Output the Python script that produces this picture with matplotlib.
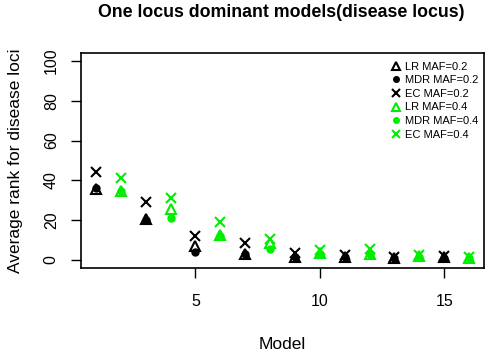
import matplotlib
matplotlib.use("Agg")
import matplotlib.pyplot as plt

plt.rcParams['font.family'] = ['Liberation Sans', 'DejaVu Sans']

models_02 = [1, 3, 5, 7, 9, 11, 13, 15]
models_04 = [2, 4, 6, 8, 10, 12, 14, 16]

lr_02 = [35.5, 20.5, 7.0, 3.0, 1.5, 1.5, 1.0, 1.5]
mdr_02 = [36.0, 20.3, 4.2, 3.2, 1.5, 1.5, 0.8, 1.0]
ec_02 = [44.4, 29.3, 12.3, 8.7, 3.5, 2.5, 1.5, 2.0]

lr_04 = [34.7, 25.5, 12.6, 8.5, 3.5, 3.0, 2.0, 1.0]
mdr_04 = [34.5, 21.0, 12.3, 5.4, 3.0, 3.0, 1.5, 0.8]
ec_04 = [41.4, 31.0, 19.3, 10.5, 5.0, 5.5, 2.5, 1.5]

labels = ["LR MAF=0.2", "MDR MAF=0.2", "EC MAF=0.2",
          "LR MAF=0.4", "MDR MAF=0.4", "EC MAF=0.4"]
xticks = [5, 10, 15]
yticks = [0, 20, 40, 60, 80, 100]

green = '#00ee00'

fig = plt.figure(figsize=(4.9, 3.55), dpi=100)
ax = fig.add_axes([0.1653, 0.2451, 0.8225, 0.6056])

ms_tri = 6.5
ms_dot = 5
ms_x = 6.5
h = []
h.append(ax.plot(models_02, mdr_02, 'o', color='black', ms=ms_dot, ls='none')[0])
h.append(ax.plot(models_02, lr_02, '^', mfc='none', mec='black', mew=1.5, ms=ms_tri, ls='none')[0])
h.append(ax.plot(models_02, ec_02, 'x', color='black', mew=1.5, ms=ms_x, ls='none')[0])
h.append(ax.plot(models_04, mdr_04, 'o', color=green, ms=ms_dot, ls='none')[0])
h.append(ax.plot(models_04, lr_04, '^', mfc='none', mec=green, mew=1.5, ms=ms_tri, ls='none')[0])
h.append(ax.plot(models_04, ec_04, 'x', color=green, mew=1.5, ms=ms_x, ls='none')[0])

order = [h[1], h[0], h[2], h[4], h[3], h[5]]
leg = ax.legend(order, labels, loc='upper right', frameon=False, fontsize=8,
                handlelength=0.8, handletextpad=0.4, labelspacing=0.32,
                bbox_to_anchor=(1.0, 0.985), markerscale=0.8,
                borderaxespad=0.1)

ax.set_xlim(0.4, 16.6)
ax.set_ylim(-4, 104)
ax.set_xticks(xticks)
ax.set_yticks(yticks)
ax.set_yticklabels([str(t) for t in yticks], rotation=90, va='center')
ax.tick_params(axis='both', length=7, width=1, labelsize=11.5, pad=12)
ax.tick_params(axis='y', pad=9)
for s in ax.spines.values():
    s.set_linewidth(1.2)

ax.set_xlabel('Model', fontsize=12.5, labelpad=20)
ax.set_ylabel('Average rank for disease loci', fontsize=12.5, labelpad=15)
fig.suptitle('One locus dominant models(disease locus)', fontsize=12.8,
             fontweight='bold', x=0.573, y=0.99)

fig.savefig('out.png', dpi=100)
